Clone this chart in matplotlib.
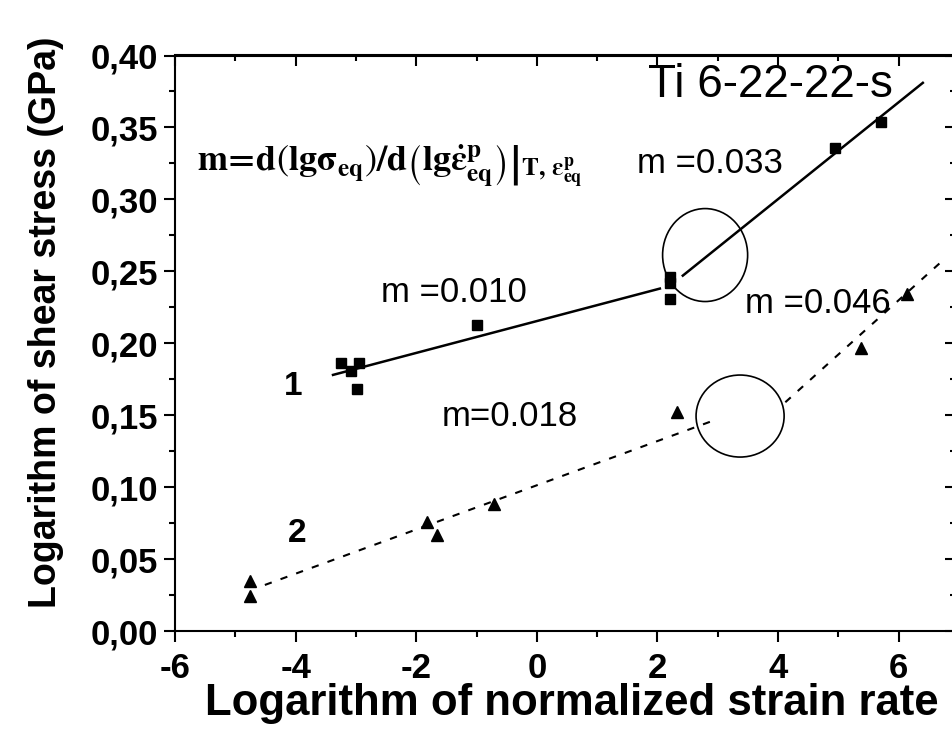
import matplotlib
matplotlib.use("Agg")
import matplotlib.pyplot as plt
from matplotlib.patches import Ellipse
from matplotlib.ticker import MultipleLocator, FuncFormatter, NullFormatter

plt.rcParams['font.family'] = ['Liberation Sans', 'DejaVu Sans']
plt.rcParams['mathtext.fontset'] = 'stix'

# ---- data ----
sq_x = [-3.25, -3.08, -2.95, -2.98, -0.99, 2.21, 2.21, 2.21, 4.95, 5.71]
sq_y = [0.186, 0.181, 0.186, 0.168, 0.213, 0.246, 0.242, 0.231, 0.336, 0.354]

tri_x = [-4.76, -4.76, -1.82, -1.65, -0.71, 2.32, 5.38, 6.14]
tri_y = [0.035, 0.024, 0.076, 0.067, 0.088, 0.152, 0.197, 0.234]

fit1a_x = [-3.38, 2.04]
fit1a_y = [0.178, 0.238]
fit1b_x = [2.42, 6.40]
fit1b_y = [0.247, 0.381]
fit2a_x = [-4.51, 2.91]
fit2a_y = [0.032, 0.146]
fit2b_x = [4.12, 6.69]
fit2b_y = [0.159, 0.256]

circle_cx = [2.79, 3.37]
circle_cy = [0.2613, 0.1494]

slope_labels = ["m =0.010", "m =0.033", "m =0.046", "m=0.018"]
slope_x = [-1.37, 2.87, 4.66, -0.44]
slope_y = [0.229, 0.318, 0.221, 0.1425]

curve_labels = ["1", "2"]
curve_x = [-4.04, -3.98]
curve_y = [0.164, 0.062]

xticks = [-6, -4, -2, 0, 2, 4, 6]
yticks = [0.00, 0.05, 0.10, 0.15, 0.20, 0.25, 0.30, 0.35, 0.40]

fig = plt.figure(figsize=(9.53, 7.38), dpi=100)
ax = fig.add_axes([175/953, (738-631)/738, (956-175)/953, (631-55.5)/738])

ax.plot(sq_x, sq_y, 's', color='black', markersize=7.5, linestyle='none')
ax.plot(tri_x, tri_y, '^', color='black', markersize=9, linestyle='none')
ax.plot(fit1a_x, fit1a_y, '-', color='black', lw=1.8)
ax.plot(fit1b_x, fit1b_y, '-', color='black', lw=1.8)
ax.plot(fit2a_x, fit2a_y, color='black', lw=1.5, dashes=(3.5, 4.5))
ax.plot(fit2b_x, fit2b_y, color='black', lw=1.5, dashes=(3.5, 4.5))

for cx, cy, w, h in zip(circle_cx, circle_cy, [1.41, 1.46], [0.0646, 0.057]):
    ax.add_patch(Ellipse((cx, cy), w, h, fill=False, edgecolor='black', lw=1.2))

ax.set_xlim(-6, 6.95)
ax.set_ylim(0, 0.40)
ax.set_xticks(xticks)
ax.set_yticks(yticks)
ax.xaxis.set_minor_locator(MultipleLocator(1))
ax.yaxis.set_minor_locator(MultipleLocator(0.025))
ax.yaxis.set_major_formatter(FuncFormatter(lambda v, p: f"{v:.2f}".replace('.', ',')))
ax.xaxis.set_major_formatter(FuncFormatter(lambda v, p: f"{int(round(v))}"))

for s in ax.spines.values():
    s.set_linewidth(1.5)
ax.tick_params(which='both', direction='out', width=1.5, top=False, right=False)
ax.tick_params(which='major', length=8)
ax.tick_params(which='minor', length=4.5)
ax.tick_params(axis='x', which='major', pad=7)
ax.tick_params(axis='y', which='major', pad=4)
for lab in ax.get_xticklabels() + ax.get_yticklabels():
    lab.set_fontsize(25)
    lab.set_fontweight('bold')

secx = ax.secondary_xaxis('top')
secx.set_xticks(xticks)
secx.xaxis.set_minor_locator(MultipleLocator(1))
secx.xaxis.set_major_formatter(NullFormatter())
secx.tick_params(which='both', direction='in', width=1.5)
secx.tick_params(which='major', length=8)
secx.tick_params(which='minor', length=4.5)
secy = ax.secondary_yaxis('right')
secy.set_yticks(yticks)
secy.yaxis.set_minor_locator(MultipleLocator(0.025))
secy.yaxis.set_major_formatter(NullFormatter())
secy.tick_params(which='both', direction='in', width=1.5)
secy.tick_params(which='major', length=8)
secy.tick_params(which='minor', length=4.5)
for s in list(secx.spines.values()) + list(secy.spines.values()):
    s.set_linewidth(1.5)

ax.set_xlabel("Logarithm of normalized strain rate", fontsize=31.5, fontweight='bold')
ax.set_ylabel("Logarithm of shear stress (GPa)", fontsize=27, fontweight='bold')
ax.xaxis.set_label_coords((572-175)/781, (631-683)/575.5)
ax.yaxis.set_label_coords((64-175)/781, (631-322)/575.5)

ax.text(3.87, 0.3712, "Ti 6-22-22-s", fontsize=33, ha='center', va='baseline')

for t, x, y in zip(slope_labels, slope_x, slope_y):
    ax.text(x, y, t, fontsize=25, ha='center', va='baseline')
for t, x, y in zip(curve_labels, curve_x, curve_y):
    ax.text(x, y, t, fontsize=24, fontweight='bold', ha='center', va='baseline')

formula = (r"$\left.\mathbf{m\!=\!d}\left(\mathbf{lg\sigma_{eq}}\right)\mathbf{/d}"
           r"\left(\mathbf{lg\dot{\varepsilon}^{p}_{eq}}\right)\right|_{\mathbf{T,}\,\mathbf{\varepsilon^{p}_{eq}}}$")
ax.text(-5.64, 0.319, formula, fontsize=26, ha='left', va='baseline')

fig.savefig("out.png", dpi=100)
